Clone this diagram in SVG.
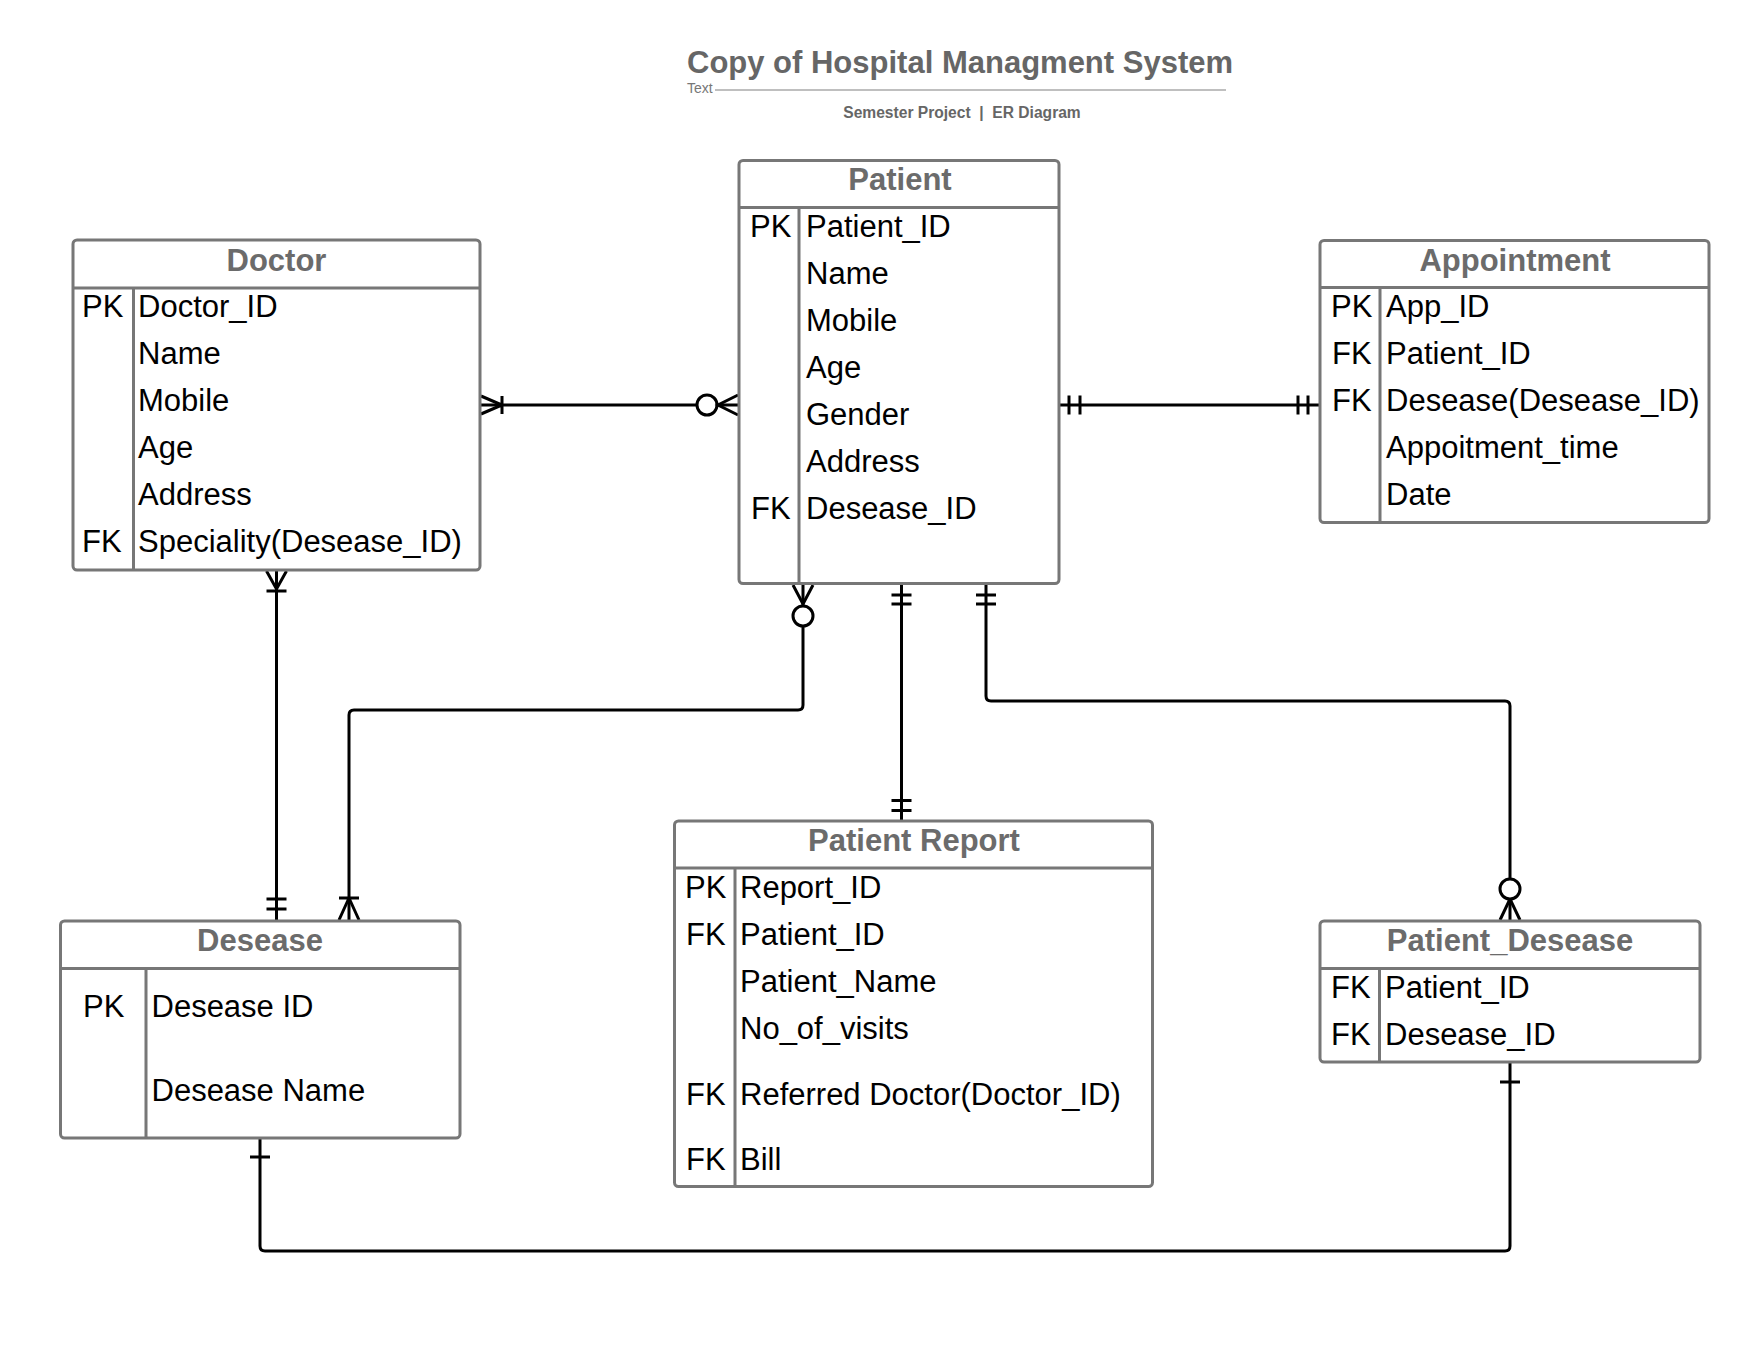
<svg xmlns="http://www.w3.org/2000/svg" width="1760" height="1360" viewBox="0 0 1760 1360">
<style>
text{font-family:"Liberation Sans",Arial,sans-serif}
.box{fill:#fff;stroke:#777;stroke-width:3}
.div{stroke:#777;stroke-width:3;fill:none}
.ttl{font-size:31px;font-weight:bold;fill:#6b6b6b;text-anchor:middle}
.at{font-size:31px;fill:#000}
.c{stroke:#000;stroke-width:3;fill:none}
.o{stroke:#000;stroke-width:3;fill:#fff}
</style>
<rect width="1760" height="1360" fill="#fff"/>
<g id="header">
<text x="687" y="73" style="font-size:31px;font-weight:bold;fill:#666">Copy of Hospital Managment System</text>
<text x="687" y="93" style="font-size:14px;fill:#777">Text</text>
<line x1="715" y1="90" x2="1226" y2="90" stroke="#aaa" stroke-width="1.5"/>
<text x="962" y="118" text-anchor="middle" style="font-size:15.6px;font-weight:bold;fill:#666">Semester Project &#160;| &#160;ER Diagram</text>
</g>
<g id="connectors">
<!-- Doctor - Patient -->
<line class="c" x1="481" y1="405" x2="738" y2="405"/>
<path class="c" d="M481 396 L502 405 L481 414 M502 396 V414"/>
<circle class="o" cx="707" cy="405" r="10"/>
<path class="c" d="M738 395 L718 405 L738 415"/>
<!-- Patient - Appointment -->
<line class="c" x1="1060" y1="405" x2="1319" y2="405"/>
<path class="c" d="M1069 395.5 V414.5 M1080 395.5 V414.5 M1298 395.5 V414.5 M1308 395.5 V414.5"/>
<!-- Doctor - Desease -->
<line class="c" x1="276.5" y1="570" x2="276.5" y2="921"/>
<path class="c" d="M266.5 571 L276.5 589 L286.5 571 M266.5 591 H286.5 M266.5 899 H286.5 M266.5 909 H286.5"/>
<!-- Patient - Desease -->
<path class="c" d="M803 584 V705 Q803 710 798 710 H354 Q349 710 349 715 V921"/>
<path class="c" d="M793 585 L803 604 L813 585"/>
<circle class="o" cx="803" cy="616" r="10"/>
<path class="c" d="M339 898 H359 M339 920 L349 898 L359 920"/>
<!-- Patient - Patient Report -->
<line class="c" x1="901.5" y1="584" x2="901.5" y2="821"/>
<path class="c" d="M891.5 595 H911.5 M891.5 604 H911.5 M891.5 800.5 H911.5 M891.5 810.5 H911.5"/>
<!-- Patient - Patient_Desease -->
<path class="c" d="M986 584 V696 Q986 701 991 701 H1505 Q1510 701 1510 706 V921"/>
<path class="c" d="M976 595 H996 M976 604 H996"/>
<path class="c" d="M1500 920 L1510 899 L1520 920"/>
<circle class="o" cx="1510" cy="889" r="10"/>
<!-- Desease - Patient_Desease -->
<path class="c" d="M260 1138 V1246 Q260 1251 265 1251 H1505 Q1510 1251 1510 1246 V1062"/>
<path class="c" d="M250 1157 H270 M1500 1082 H1520"/>
</g>
<g id="doctor">
<rect class="box" x="73" y="240" width="407" height="330" rx="4"/>
<path class="div" d="M73 288 H480 M133.5 288 V570"/>
<text class="ttl" x="276.5" y="271">Doctor</text>
<text class="at" x="82" y="317">PK</text>
<text class="at" x="138" y="317">Doctor_ID</text>
<text class="at" x="138" y="364">Name</text>
<text class="at" x="138" y="411">Mobile</text>
<text class="at" x="138" y="458">Age</text>
<text class="at" x="138" y="505">Address</text>
<text class="at" x="82" y="552">FK</text>
<text class="at" x="138" y="552">Speciality(Desease_ID)</text>
</g>
<g id="patient">
<rect class="box" x="739" y="160.5" width="320" height="423" rx="4"/>
<path class="div" d="M739 207.5 H1059 M799 207.5 V583.5"/>
<text class="ttl" x="900" y="190">Patient</text>
<text class="at" x="750" y="237">PK</text>
<text class="at" x="806" y="237">Patient_ID</text>
<text class="at" x="806" y="284">Name</text>
<text class="at" x="806" y="331">Mobile</text>
<text class="at" x="806" y="378">Age</text>
<text class="at" x="806" y="425">Gender</text>
<text class="at" x="806" y="472">Address</text>
<text class="at" x="751" y="519">FK</text>
<text class="at" x="806" y="519">Desease_ID</text>
</g>
<g id="appointment">
<rect class="box" x="1320" y="240.5" width="389" height="282" rx="4"/>
<path class="div" d="M1320 287.5 H1709 M1380 287.5 V522.5"/>
<text class="ttl" x="1515" y="271">Appointment</text>
<text class="at" x="1331" y="317">PK</text>
<text class="at" x="1386" y="317">App_ID</text>
<text class="at" x="1332" y="364">FK</text>
<text class="at" x="1386" y="364">Patient_ID</text>
<text class="at" x="1332" y="411">FK</text>
<text class="at" x="1386" y="411">Desease(Desease_ID)</text>
<text class="at" x="1386" y="458">Appoitment_time</text>
<text class="at" x="1386" y="505">Date</text>
</g>
<g id="desease">
<rect class="box" x="60.5" y="921" width="399.5" height="217" rx="4"/>
<path class="div" d="M60.5 968.5 H460 M146 968.5 V1138"/>
<text class="ttl" x="260" y="951">Desease</text>
<text class="at" x="83" y="1017">PK</text>
<text class="at" x="151.5" y="1017">Desease ID</text>
<text class="at" x="151.5" y="1101">Desease Name</text>
</g>
<g id="patient_report">
<rect class="box" x="674.5" y="821" width="478" height="365.5" rx="4"/>
<path class="div" d="M674.5 868 H1152.5 M735 868 V1186.5"/>
<text class="ttl" x="914" y="851">Patient Report</text>
<text class="at" x="685" y="898">PK</text>
<text class="at" x="740" y="898">Report_ID</text>
<text class="at" x="686" y="945">FK</text>
<text class="at" x="740" y="945">Patient_ID</text>
<text class="at" x="740" y="992">Patient_Name</text>
<text class="at" x="740" y="1039">No_of_visits</text>
<text class="at" x="686" y="1105">FK</text>
<text class="at" x="740" y="1105">Referred Doctor(Doctor_ID)</text>
<text class="at" x="686" y="1170">FK</text>
<text class="at" x="740" y="1170">Bill</text>
</g>
<g id="patient_desease">
<rect class="box" x="1320" y="921" width="380" height="141" rx="4"/>
<path class="div" d="M1320 968.5 H1700 M1379.5 968.5 V1062"/>
<text class="ttl" x="1510" y="951">Patient_Desease</text>
<text class="at" x="1331" y="998">FK</text>
<text class="at" x="1385" y="998">Patient_ID</text>
<text class="at" x="1331" y="1045">FK</text>
<text class="at" x="1385" y="1045">Desease_ID</text>
</g>
</svg>
